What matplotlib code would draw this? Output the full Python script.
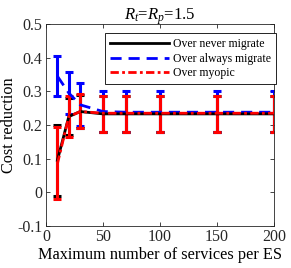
import matplotlib
matplotlib.use("Agg")
import matplotlib.pyplot as plt
from matplotlib.lines import Line2D
import numpy as np

plt.rcParams['font.family'] = ['Liberation Serif']
plt.rcParams['mathtext.fontset'] = 'custom'
plt.rcParams['mathtext.it'] = 'Liberation Serif:italic'
plt.rcParams['mathtext.rm'] = 'Liberation Serif'

x = [10, 20, 30, 50, 70, 100, 150, 200]

never_mean = [0.095, 0.225, 0.240, 0.233, 0.233, 0.233, 0.233, 0.233]
never_lo = [-0.010, 0.170, 0.190, 0.180, 0.180, 0.180, 0.180, 0.180]
never_hi = [0.200, 0.280, 0.290, 0.287, 0.287, 0.287, 0.287, 0.287]

always_mean = [0.345, 0.295, 0.260, 0.240, 0.238, 0.238, 0.238, 0.238]
always_lo = [0.287, 0.233, 0.197, 0.178, 0.178, 0.178, 0.178, 0.178]
always_hi = [0.405, 0.358, 0.325, 0.302, 0.302, 0.302, 0.302, 0.302]

myopic_mean = [0.085, 0.225, 0.240, 0.235, 0.235, 0.235, 0.235, 0.235]
myopic_lo = [-0.020, 0.165, 0.190, 0.180, 0.180, 0.180, 0.180, 0.180]
myopic_hi = [0.195, 0.285, 0.292, 0.287, 0.287, 0.287, 0.287, 0.287]

labels = ['Over never migrate', 'Over always migrate', 'Over myopic']

fig = plt.figure(figsize=(2.91, 2.68), dpi=100)
ax = fig.add_axes([46/291, 1-226/268, (274-46)/291, (226-24)/268])

styles = {
    'black': '-',
    'blue': (0, (4, 2.5)),
    'red': (0, (3, 1.2, 1, 1.2)),
}
colors = {'black': 'black', 'blue': '#0000ff', 'red': '#ff0000'}

def eb(m, lo, hi, key):
    m = np.array(m); lo = np.array(lo); hi = np.array(hi)
    ax.errorbar(x, m, yerr=[m - lo, hi - m], color=colors[key], ls=styles[key], lw=2,
                elinewidth=2.2, capsize=3, capthick=2.2)

eb(always_mean, always_lo, always_hi, 'blue')
eb(never_mean, never_lo, never_hi, 'black')
eb(myopic_mean, myopic_lo, myopic_hi, 'red')

ax.set_xlim(0, 200)
ax.set_ylim(-0.1, 0.5)
ax.set_xticks([0, 50, 100, 150, 200])
ax.set_yticks([-0.1, 0, 0.1, 0.2, 0.3, 0.4, 0.5])
ax.set_yticklabels(['-0.1', '0', '0.1', '0.2', '0.3', '0.4', '0.5'])
ax.tick_params(direction='in', top=True, right=True, labelsize=11.5, length=3, width=0.6,
               colors='#262626', pad=2.5)
for s in ax.spines.values():
    s.set_linewidth(0.6)
    s.set_color('#262626')
ax.set_xlabel('Maximum number of services per ES', fontsize=11.7, labelpad=1)
ax.set_ylabel('Cost reduction', fontsize=11.7, labelpad=0)
ax.set_title(r'$R_t$=$R_p$=1.5', fontsize=12, pad=3)

handles = [Line2D([], [], color=colors[k], ls=styles[k], lw=2) for k in ['black', 'blue', 'red']]
leg = ax.legend(handles, labels, loc='upper right',
                bbox_to_anchor=(1.01, 0.955), fontsize=8.5, frameon=True, fancybox=False,
                edgecolor='black', framealpha=1, handlelength=5.0, borderpad=0.45,
                labelspacing=0.2, handletextpad=0.3, borderaxespad=0)
leg.get_frame().set_linewidth(0.6)

fig.savefig('out.png', dpi=100)
